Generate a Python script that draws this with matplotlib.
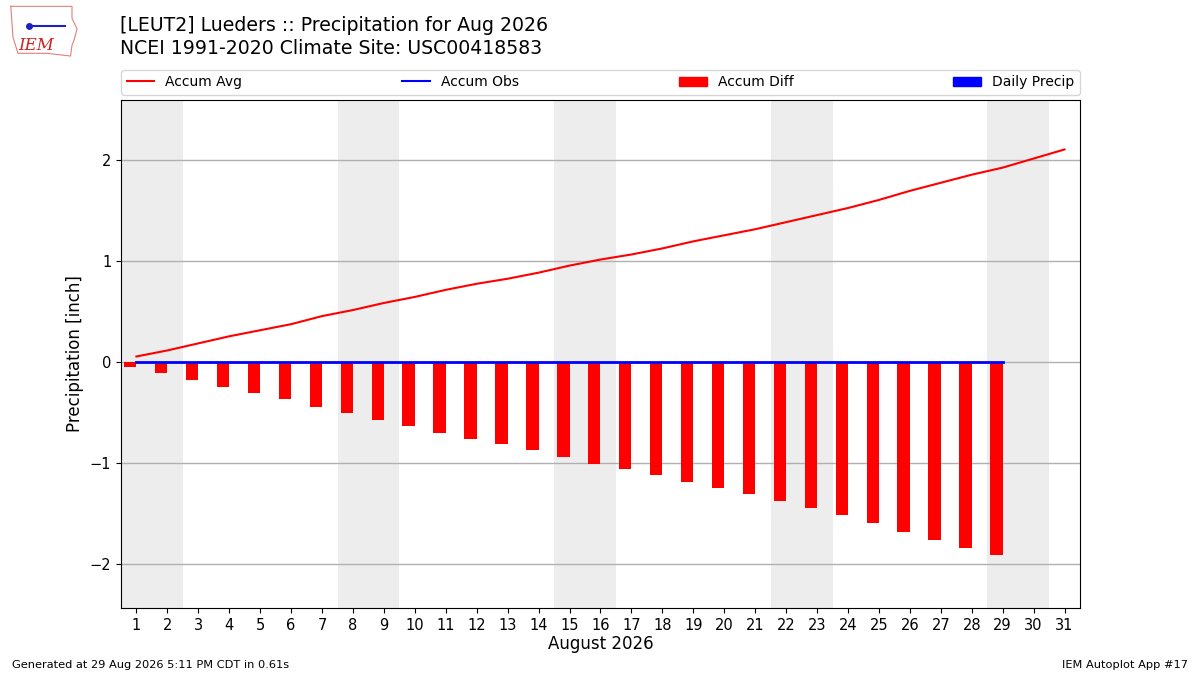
#!/usr/bin/env python3
# -*- coding: utf-8 -*-

import matplotlib;
matplotlib.use("Agg");
import matplotlib.pyplot as plt;
from matplotlib.patches import Patch;
from matplotlib.lines import Line2D;

# data
days = list(range(1, 32));
accum_avg = [0.05, 0.11, 0.18, 0.25, 0.31, 0.37, 0.45, 0.51, 0.58, 0.64,
             0.71, 0.77, 0.82, 0.88, 0.95, 1.01, 1.06, 1.12, 1.19, 1.25,
             1.31, 1.38, 1.45, 1.52, 1.60, 1.69, 1.77, 1.85, 1.92, 2.01, 2.10];
obs_days = list(range(1, 30));
accum_obs = [0.0] * 29;
daily_precip = [0.0] * 29;
accum_diff = [o - a for o, a in zip(accum_obs, accum_avg[:29])];
weekend_starts = [1, 8, 15, 22, 29]; # Sat/Sun pairs in Aug 2026

title_lines = ["[LEUT2] Lueders :: Precipitation for Aug 2026",
               "NCEI 1991-2020 Climate Site: USC00418583"];
footer_left = "Generated at 29 Aug 2026 5:11 PM CDT in 0.61s";
footer_right = "IEM Autoplot App #17";

fig = plt.figure(figsize=(12, 6.75), dpi=100);
ax = fig.add_axes([0.1008, 0.0993, 0.7992, 0.7526]);

for d in weekend_starts:
    ax.axvspan(d - 0.5, d + 1.5, color="#ededed", zorder=0, lw=0);

ax.bar(obs_days, daily_precip, width=0.4, color="b", zorder=2);
ax.bar(obs_days, accum_diff, width=-0.4, align="edge", color="r", zorder=2);
ax.plot(days, accum_avg, color="r", lw=1.5, zorder=3);
ax.plot(obs_days, accum_obs, color="b", lw=2, zorder=3);

ax.set_xlim(0.5, 31.5);
ax.set_ylim(-2.44, 2.59);
ax.set_xticks(days);
ax.set_yticks([-2, -1, 0, 1, 2]);
ax.set_yticklabels(["\u22122", "\u22121", "0", "1", "2"]);
ax.tick_params(labelsize=10.5);
ax.yaxis.grid(True, color="#b0b0b0", lw=1);
ax.set_axisbelow(True);
ax.set_xlabel("August 2026", fontsize=12, labelpad=2);
ax.set_ylabel("Precipitation [inch]", fontsize=12);

handles = [Line2D([], [], color="r", lw=1.5), Line2D([], [], color="b", lw=1.5),
           Patch(color="r"), Patch(color="b")];
labels = ["Accum Avg", "Accum Obs", "Accum Diff", "Daily Precip"];
ax.legend(handles, labels, ncol=4, mode="expand", loc="lower left",
          bbox_to_anchor=(0, 1.01, 1, 0.05), borderaxespad=0, fontsize=10);

fig.text(0.1, 0.962, title_lines[0], fontsize=13.6, va="center");
fig.text(0.1, 0.928, title_lines[1], fontsize=13.6, va="center");
fig.text(0.01, 0.01, footer_left, fontsize=8.2);
fig.text(0.99, 0.01, footer_right, fontsize=8.2, ha="right");

# rough stand-in for the IEM logo
lax = fig.add_axes([0.006, 0.913, 0.06, 0.08]);
lax.set_xlim(0, 1); lax.set_ylim(0, 1); lax.axis("off");
ox = [0.05, 0.9, 0.9, 0.97, 0.93, 0.9, 0.88, 0.55, 0.15, 0.08, 0.05];
oy = [0.97, 0.97, 0.75, 0.55, 0.35, 0.25, 0.05, 0.1, 0.1, 0.4, 0.97];
lax.plot(ox, oy, color="#e08080", lw=0.8);
lax.plot([0.3, 0.8], [0.6, 0.6], color="#2020c0", lw=1.5);
lax.plot([0.3], [0.6], "o", color="#2020c0", ms=4);
lax.text(0.4, 0.25, "IEM", color="#d02020", fontsize=12, family="serif",
         style="italic", ha="center", va="center");

fig.savefig("out.png", dpi=100);
plt.close(fig);
